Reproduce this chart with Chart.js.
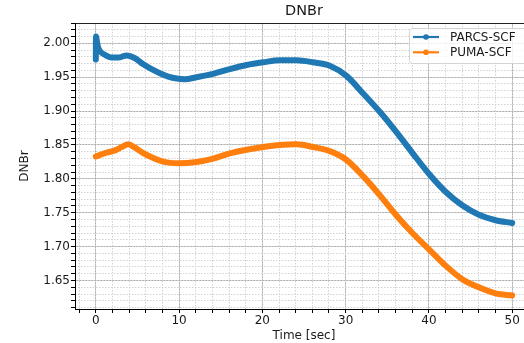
<!DOCTYPE html>
<html><head><meta charset="utf-8">
<script src="https://cdn.jsdelivr.net/npm/chart.js@4/dist/chart.umd.min.js"></script>
<style>
html,body{margin:0;padding:0;background:#fff;overflow:hidden;width:524px;height:343px}
#wrap{width:524px;height:343px;overflow:hidden;position:relative}
canvas{display:block}
</style></head>
<body><div id="wrap"><canvas id="c" width="540" height="343" style="width:540px;height:343px"></canvas></div>
<script>
const chartTitle = 'DNBr';
const xLabel = 'Time [sec]';
const yLabel = 'DNBr';
const seriesNames = ['PARCS-SCF', 'PUMA-SCF'];
const seriesColors = ['#1f77b4', '#ff7f0e'];

const parcsTime = [0, 0.02, 0.15, 0.3, 0.6, 1.1, 1.9, 2.7, 3.7, 4.7, 5.7, 6.7, 7.7, 8.7, 9.7, 10.7, 12.1, 14.1, 16.1, 18.1, 20.1, 22.1, 24.1, 26.1, 28.1, 30.1, 32.1, 34.1, 36.1, 38.1, 40.1, 42, 44, 46, 48, 50];
const parcsDNBr = [1.976, 2.010, 2.001, 1.993, 1.987, 1.983, 1.979, 1.979, 1.982, 1.978, 1.969, 1.962, 1.956, 1.951, 1.948, 1.947, 1.950, 1.955, 1.962, 1.968, 1.972, 1.975, 1.975, 1.972, 1.967, 1.952, 1.926, 1.899, 1.869, 1.837, 1.806, 1.781, 1.761, 1.747, 1.739, 1.735];

const pumaTime = [0, 1.1, 2.3, 3.1, 3.9, 4.7, 5.7, 6.7, 7.7, 8.7, 10, 12.1, 14.1, 16.1, 18.1, 20.1, 22.1, 24.1, 26.1, 28.1, 30, 32.1, 34.1, 36.1, 38.1, 40.1, 42, 44, 46, 48, 50];
const pumaDNBr = [1.833, 1.838, 1.842, 1.847, 1.851, 1.846, 1.838, 1.832, 1.827, 1.824, 1.823, 1.825, 1.830, 1.8375, 1.843, 1.847, 1.850, 1.851, 1.847, 1.841, 1.829, 1.804, 1.776, 1.746, 1.719, 1.695, 1.672, 1.652, 1.640, 1.631, 1.628];

const xTickLabels = ['0', '10', '20', '30', '40', '50'];
const yTickLabels = ['1.65', '1.70', '1.75', '1.80', '1.85', '1.90', '1.95', '2.00'];

const FONT = '"DejaVu Sans", sans-serif';
const toPts = (xs, ys) => xs.map((x, i) => ({x: x, y: ys[i]}));
const isMajorX = v => xTickLabels.includes(String(Math.round(v * 1000) / 1000));
const isMajorY = v => yTickLabels.includes(Number(v).toFixed(2)) && Math.abs(v * 20 - Math.round(v * 20)) < 1e-6;

const legendPlugin = {
  id: 'mplLegend',
  afterDraw(chart) {
    const {ctx, chartArea} = chart;
    const x0 = Math.round(chartArea.right - 124), y0 = Math.round(chartArea.top + 5), w = 122, h = 35;
    ctx.save();
    ctx.beginPath();
    ctx.roundRect(x0 + 0.5, y0 + 0.5, w, h, 3);
    ctx.fillStyle = 'rgba(255,255,255,0.8)';
    ctx.fill();
    ctx.strokeStyle = '#d4d4d4';
    ctx.lineWidth = 1;
    ctx.stroke();
    chart.data.datasets.forEach((ds, i) => {
      const yy = y0 + 9 + i * 15.3;
      ctx.strokeStyle = ds.borderColor;
      ctx.lineWidth = 2.2;
      ctx.beginPath(); ctx.moveTo(x0 + 4, yy); ctx.lineTo(x0 + 30, yy); ctx.stroke();
      ctx.fillStyle = ds.borderColor;
      ctx.beginPath(); ctx.arc(x0 + 17, yy, 2.8, 0, Math.PI * 2); ctx.fill();
      ctx.fillStyle = '#1a1a1a';
      ctx.font = '12px ' + FONT;
      ctx.textBaseline = 'middle';
      ctx.textAlign = 'left';
      ctx.fillText(ds.label, x0 + 41, yy + 0.5);
    });
    ctx.restore();
  }
};

const xMin = -2.5, xMax = 52.5, yMin = 1.608, yMax = 2.030;

new Chart(document.getElementById('c'), {
  type: 'line',
  data: {
    datasets: [
      {label: seriesNames[0], data: toPts(parcsTime, parcsDNBr), borderColor: seriesColors[0], backgroundColor: seriesColors[0]},
      {label: seriesNames[1], data: toPts(pumaTime, pumaDNBr), borderColor: seriesColors[1], backgroundColor: seriesColors[1]}
    ]
  },
  options: {
    responsive: false,
    animation: false,
    devicePixelRatio: 1,
    layout: {padding: {left: 0, right: 7, top: 0, bottom: 0}},
    elements: {
      line: {borderWidth: 6, borderCapStyle: 'round', borderJoinStyle: 'round', cubicInterpolationMode: 'monotone', fill: false},
      point: {radius: 0, hoverRadius: 0}
    },
    plugins: {legend: {display: false}, tooltip: {enabled: false}, title: {display: false}},
    scales: {
      x: {
        type: 'linear', position: 'bottom', min: xMin, max: xMax,
        ticks: {stepSize: 2, autoSkip: false, maxRotation: 0, includeBounds: false, padding: 1,
          color: '#1a1a1a', font: {family: FONT, size: 12},
          callback: v => isMajorX(v) ? String(Math.round(v)) : ''},
        grid: {color: c => (c.tick && isMajorX(c.tick.value)) ? '#b0b0b0' : 'rgba(0,0,0,0)', lineWidth: 1,
          tickColor: '#000', tickLength: 4, tickWidth: 1},
        border: {display: true, color: '#000', width: 1},
        title: {display: true, text: xLabel, color: '#1a1a1a', font: {family: FONT, size: 12, lineHeight: 1.2}, padding: {top: 0, bottom: 0}},
        afterFit: s => { s.height = 34; }
      },
      xMinor: {
        type: 'linear', position: 'bottom', min: xMin, max: xMax,
        ticks: {display: false, stepSize: 2, includeBounds: false, autoSkip: false},
        grid: {color: '#d2d2d2', lineWidth: 1, drawTicks: false},
        border: {display: false, dash: [1.5, 1.5]},
        afterFit: s => { s.height = 0; }
      },
      xTop: {
        type: 'linear', position: 'top', min: xMin, max: xMax,
        ticks: {display: false},
        grid: {display: false, drawTicks: false},
        border: {display: true, color: '#222', width: 1},
        title: {display: true, text: chartTitle, color: '#1a1a1a', font: {family: FONT, size: 14.5, lineHeight: 1.2}, padding: {top: 3, bottom: 0}},
        afterFit: s => { s.height = 23; }
      },
      y: {
        type: 'linear', position: 'left', min: yMin, max: yMax,
        ticks: {stepSize: 0.01, autoSkip: false, includeBounds: false, padding: 1,
          color: '#1a1a1a', font: {family: FONT, size: 12},
          callback: v => isMajorY(v) ? Number(v).toFixed(2) : ''},
        grid: {color: c => (c.tick && isMajorY(c.tick.value)) ? '#b0b0b0' : 'rgba(0,0,0,0)', lineWidth: 1,
          tickColor: '#000', tickLength: 4, tickWidth: 1},
        border: {display: true, color: '#000', width: 1},
        title: {display: true, text: yLabel, color: '#1a1a1a', font: {family: FONT, size: 12, lineHeight: 1.2}, padding: {top: 18, bottom: 0}},
        afterFit: s => { s.width = 75; }
      },
      yMinor: {
        type: 'linear', position: 'left', min: yMin, max: yMax,
        ticks: {display: false, stepSize: 0.01, includeBounds: false, autoSkip: false},
        grid: {color: '#d2d2d2', lineWidth: 1, drawTicks: false},
        border: {display: false, dash: [1.5, 1.5]},
        afterFit: s => { s.width = 0; }
      }
    }
  },
  plugins: [legendPlugin]
});
</script>
</body></html>
